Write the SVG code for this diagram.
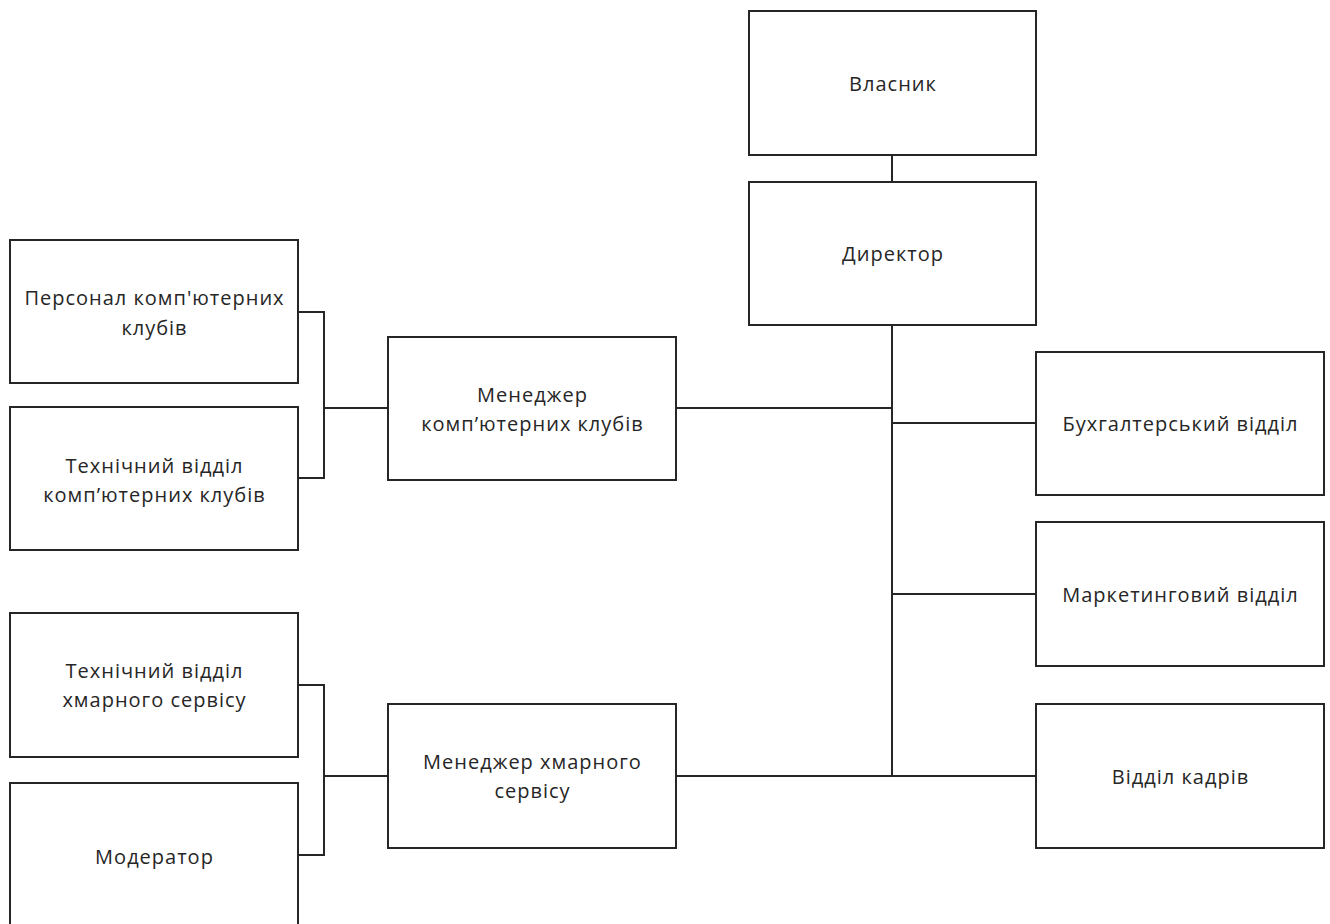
<svg xmlns="http://www.w3.org/2000/svg" width="1330" height="924" viewBox="0 0 1330 924">
  <style>
    .box { fill: #ffffff; stroke: #262626; stroke-width: 2; }
    .link { fill: none; stroke: #262626; stroke-width: 2; }
    .label { font-family: "Open Sans", "Liberation Sans", sans-serif; font-size: 20px; letter-spacing: 1px; fill: #262626; text-anchor: middle; dominant-baseline: central; }
  </style>
  <rect width="1330" height="924" fill="#ffffff"/>

  <g id="connectors">
    <!-- owner to director -->
    <path class="link" d="M892 155 V182"/>
    <!-- director trunk and branches -->
    <path class="link" d="M892 325 V776"/>
    <path class="link" d="M676 408 H892"/>
    <path class="link" d="M892 423 H1036"/>
    <path class="link" d="M892 594 H1036"/>
    <path class="link" d="M676 776 H1036"/>
    <!-- computer clubs bracket -->
    <path class="link" d="M298 312 H324 V478 H298"/>
    <path class="link" d="M324 408 H388"/>
    <!-- cloud service bracket -->
    <path class="link" d="M298 685 H324 V855 H298"/>
    <path class="link" d="M324 776 H388"/>
  </g>

  <g id="owner">
    <rect class="box" x="749" y="11" width="287" height="144"/>
    <text class="label" x="893" y="83">Власник</text>
  </g>
  <g id="director">
    <rect class="box" x="749" y="182" width="287" height="143"/>
    <text class="label" x="893" y="253">Директор</text>
  </g>
  <g id="club-staff">
    <rect class="box" x="10" y="240" width="288" height="143"/>
    <text class="label" x="154.5" y="297">Персонал комп'ютерних</text>
    <text class="label" x="154.5" y="327">клубів</text>
  </g>
  <g id="club-tech">
    <rect class="box" x="10" y="407" width="288" height="143"/>
    <text class="label" x="154.5" y="465">Технічний відділ</text>
    <text class="label" x="154.5" y="494">комп’ютерних клубів</text>
  </g>
  <g id="club-manager">
    <rect class="box" x="388" y="337" width="288" height="143"/>
    <text class="label" x="532.5" y="394">Менеджер</text>
    <text class="label" x="532.5" y="423">комп’ютерних клубів</text>
  </g>
  <g id="accounting">
    <rect class="box" x="1036" y="352" width="288" height="143"/>
    <text class="label" x="1180.5" y="423">Бухгалтерський відділ</text>
  </g>
  <g id="marketing">
    <rect class="box" x="1036" y="522" width="288" height="144"/>
    <text class="label" x="1180.5" y="594">Маркетинговий відділ</text>
  </g>
  <g id="cloud-tech">
    <rect class="box" x="10" y="613" width="288" height="144"/>
    <text class="label" x="154.5" y="670">Технічний відділ</text>
    <text class="label" x="154.5" y="699">хмарного сервісу</text>
  </g>
  <g id="moderator">
    <rect class="box" x="10" y="783" width="288" height="144"/>
    <text class="label" x="154.5" y="856">Модератор</text>
  </g>
  <g id="cloud-manager">
    <rect class="box" x="388" y="704" width="288" height="144"/>
    <text class="label" x="532.5" y="761">Менеджер хмарного</text>
    <text class="label" x="532.5" y="790">сервісу</text>
  </g>
  <g id="hr">
    <rect class="box" x="1036" y="704" width="288" height="144"/>
    <text class="label" x="1180.5" y="776">Відділ кадрів</text>
  </g>
</svg>
